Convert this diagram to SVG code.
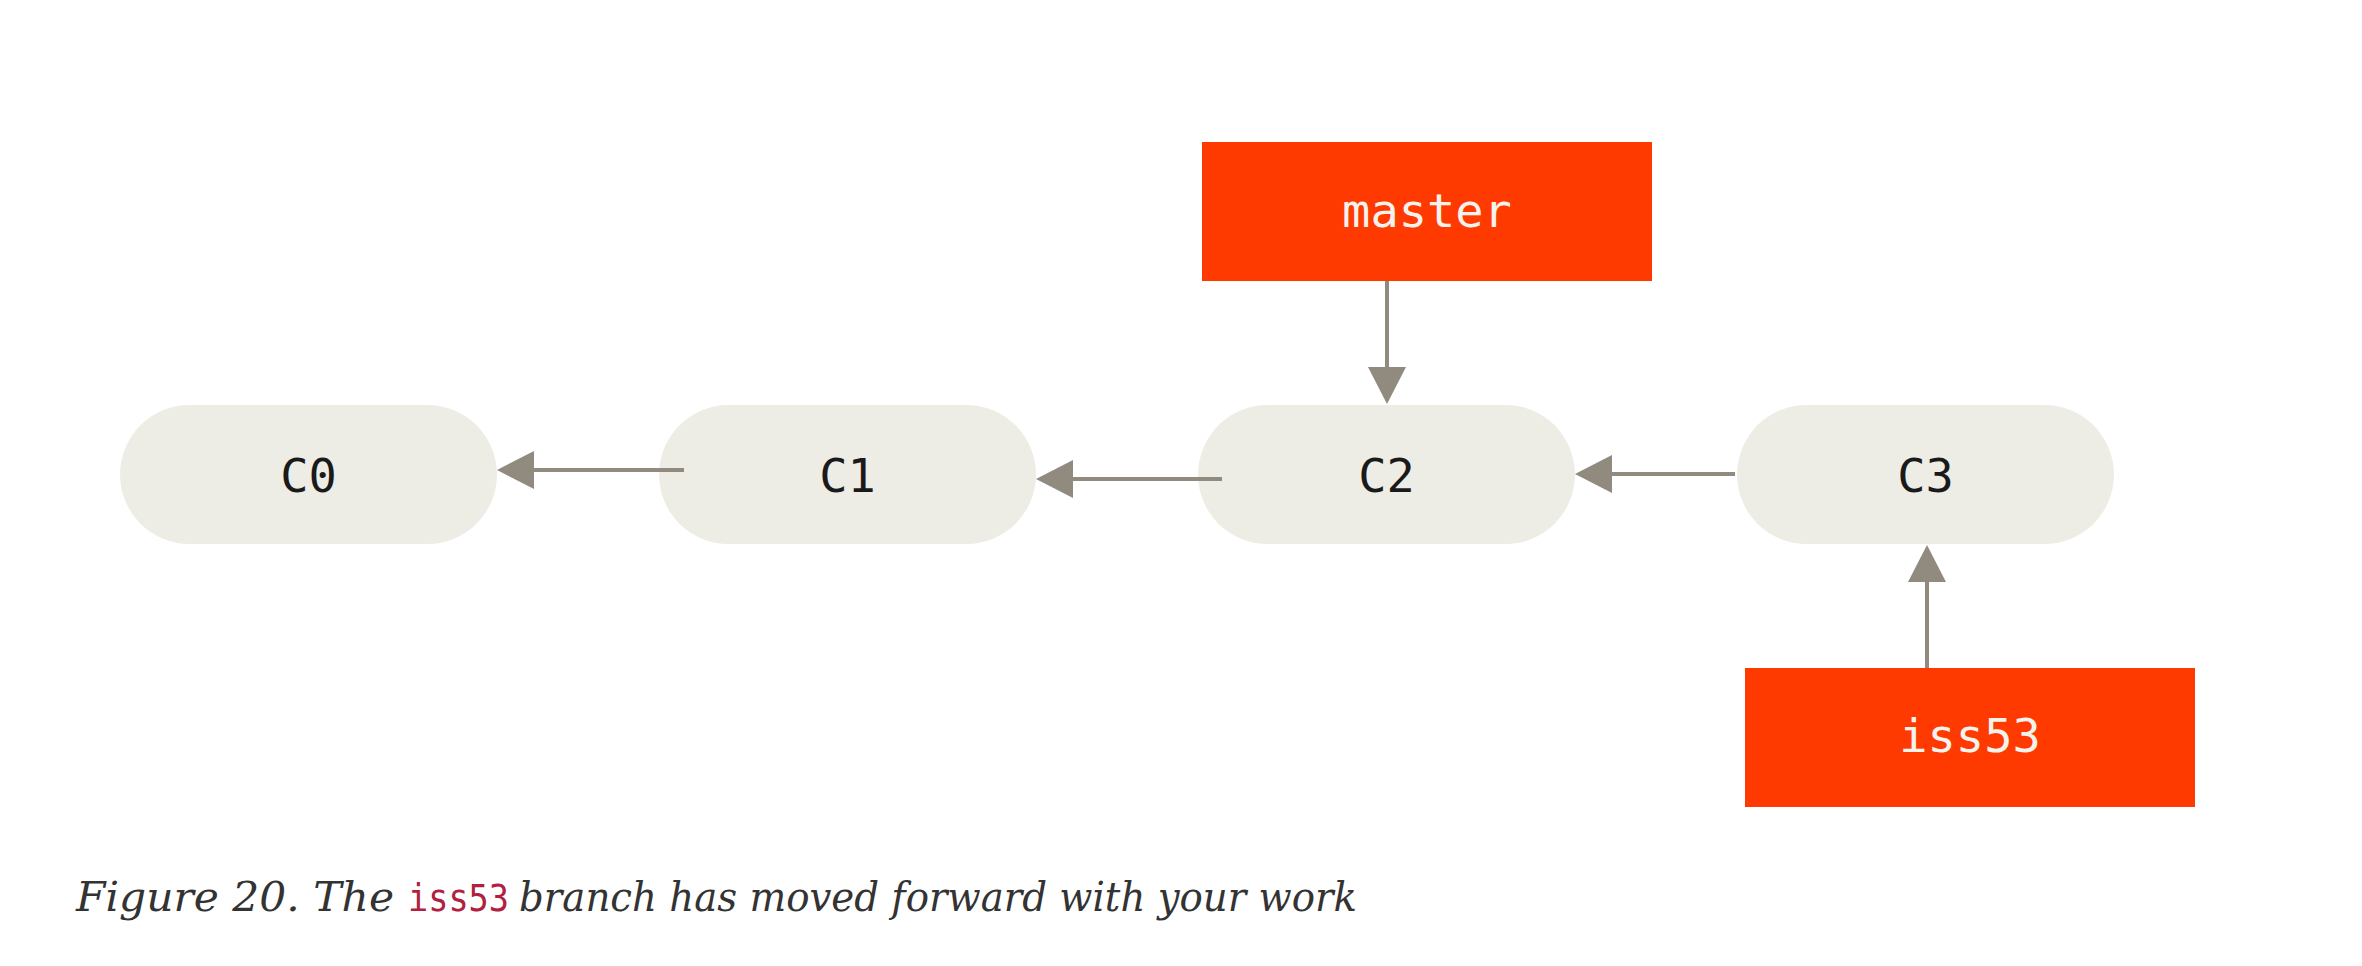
<svg xmlns="http://www.w3.org/2000/svg" width="2362" height="966" viewBox="0 0 2362 966">
  <style>
    .commit { fill: #eeede5; }
    .branch { fill: #ff3a00; }
    .label { font-family: "DejaVu Sans Mono", "Liberation Mono", monospace; font-size: 47px; text-anchor: middle; }
    .commit-label { fill: #1a1a1a; }
    .branch-label { fill: #f4f2ec; }
    .link { stroke: #918a7f; stroke-width: 4; fill: none; marker-end: url(#head); }
    .caption { font-family: "DejaVu Serif", "Liberation Serif", serif; font-style: italic; font-size: 41px; fill: #333333; }
    .caption-code { font-family: "DejaVu Sans Mono", "Liberation Mono", monospace; font-size: 37px; fill: #b0203f; }
  </style>
  <defs>
    <marker id="head" viewBox="0 0 37 38" refX="0" refY="19" markerWidth="37" markerHeight="38" markerUnits="userSpaceOnUse" orient="auto">
      <path d="M0,0 L37,19 L0,38 Z" fill="#918a7f"/>
    </marker>
  </defs>

  <rect width="2362" height="966" fill="#ffffff"/>

  <!-- commits -->
  <g id="c0">
    <rect class="commit" x="120" y="405" width="377" height="139" rx="69.5"/>
    <text class="label commit-label" x="308.5" y="492">C0</text>
  </g>
  <g id="c1">
    <rect class="commit" x="659" y="405" width="377" height="139" rx="69.5"/>
    <text class="label commit-label" x="847.5" y="492">C1</text>
  </g>
  <g id="c2">
    <rect class="commit" x="1198" y="405" width="377" height="139" rx="69.5"/>
    <text class="label commit-label" x="1386.5" y="492">C2</text>
  </g>
  <g id="c3">
    <rect class="commit" x="1737" y="405" width="377" height="139" rx="69.5"/>
    <text class="label commit-label" x="1925.5" y="492">C3</text>
  </g>

  <!-- branch pointers -->
  <g id="master">
    <rect class="branch" x="1202" y="142" width="450" height="139"/>
    <text class="label branch-label" x="1427" y="227">master</text>
  </g>
  <g id="iss53">
    <rect class="branch" x="1745" y="668" width="450" height="139"/>
    <text class="label branch-label" x="1970" y="752">iss53</text>
  </g>

  <!-- parent links and branch references -->
  <g id="connectors">
    <line class="link" x1="684" y1="470" x2="534" y2="470"/>
    <line class="link" x1="1222" y1="479" x2="1073" y2="479"/>
    <line class="link" x1="1735" y1="474" x2="1612" y2="474"/>
    <line class="link" x1="1387" y1="281" x2="1387" y2="367"/>
    <line class="link" x1="1927" y1="668" x2="1927" y2="582"/>
  </g>

  <!-- caption -->
  <g id="caption">
    <text class="caption" x="76" y="911" textLength="318" lengthAdjust="spacingAndGlyphs">Figure 20. The</text>
    <text class="caption-code" x="408" y="911" textLength="101" lengthAdjust="spacingAndGlyphs">iss53</text>
    <text class="caption" x="519" y="911" textLength="838" lengthAdjust="spacingAndGlyphs">branch has moved forward with your work</text>
  </g>
</svg>
